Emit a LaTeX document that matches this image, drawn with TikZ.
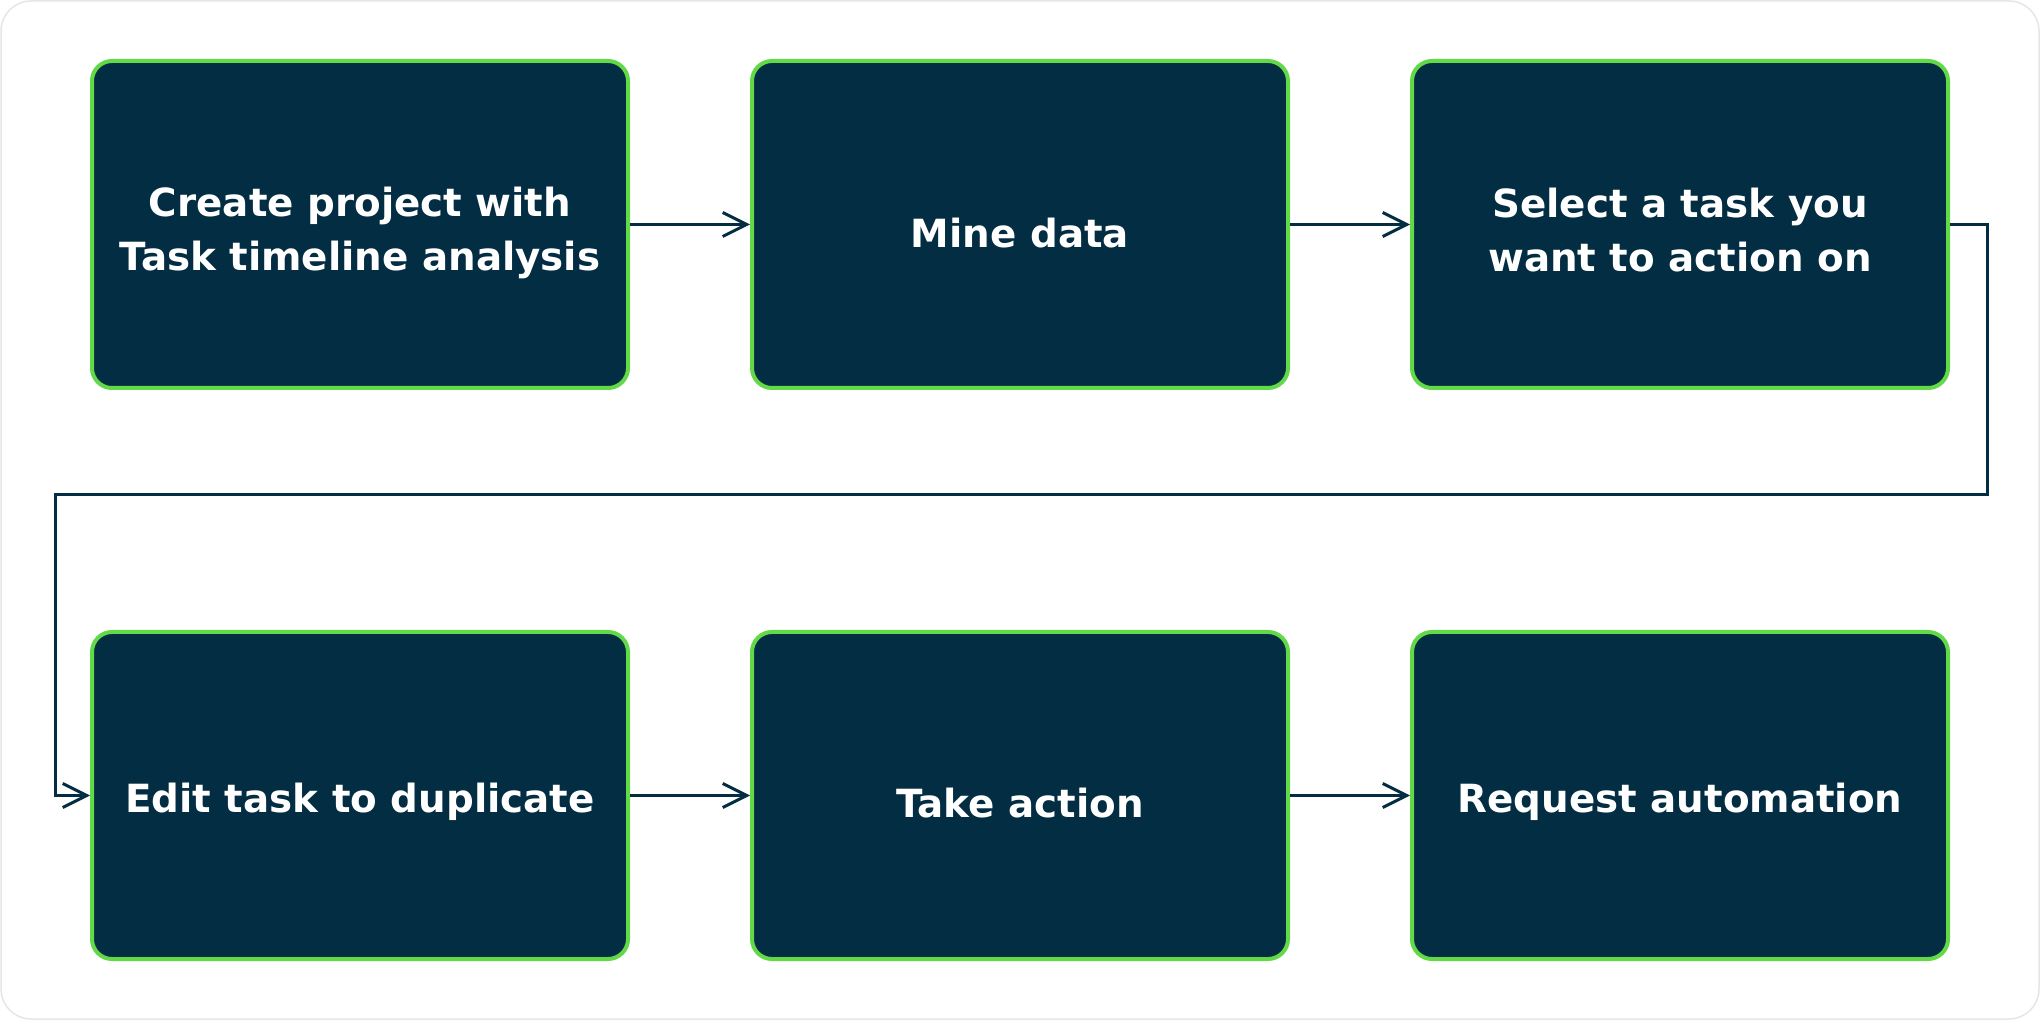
\documentclass[tikz,border=0pt]{standalone}
\usepackage{fontspec}
\setmainfont{DejaVu Sans}
\usetikzlibrary{arrows.meta}
\definecolor{boxfill}{HTML}{032D42}
\definecolor{boxline}{HTML}{62DA48}
\definecolor{frameline}{HTML}{E6E6E6}
\tikzset{
  stepbox/.style={draw=boxline, line width=2pt, fill=boxfill, rounded corners=10pt,
    minimum width=268pt, minimum height=163.5pt, inner sep=0pt},
  steptext/.style={text=white, font=\bfseries\fontsize{19.4}{27.3}\selectfont, align=center},
  flow/.style={draw=boxfill, line width=1.5pt, -{Straight Barb[length=12pt,width=12pt,line width=1.5pt]}},
}
\begin{document}
\begin{tikzpicture}[x=0.5pt,y=-0.5pt]
\useasboundingbox (0,0) rectangle (2040,1020);
\draw[frameline, line width=0.75pt, fill=white, rounded corners=15pt] (1,1) rectangle (2039,1019);
% boxes
\node[stepbox] (b1) at (360,224.5) {};
\node[stepbox] (b2) at (1020,224.5) {};
\node[stepbox] (b3) at (1680,224.5) {};
\node[stepbox] (b4) at (360,795.5) {};
\node[stepbox] (b5) at (1020,795.5) {};
\node[stepbox] (b6) at (1680,795.5) {};
% texts
\node[steptext] (t1) at (360,233) {Create project with\\Task timeline analysis};
\node[steptext, anchor=base] (t2) at (1020,248) {Mine data};
\node[steptext] (t3) at (1680,230) {\fontsize{19.4}{30}\selectfont Select a task you\\want to action on};
\node[steptext, anchor=base] (t4) at (360,812.5) {Edit task to duplicate};
\node[steptext, anchor=base] (t5) at (1020,817.5) {Take action};
\node[steptext, anchor=base] (t6) at (1680,812.5) {Request automation};
% connectors
\coordinate (c1) at (1987,224.5);
\coordinate (c2) at (1987,494.5);
\coordinate (c3) at (55,494.5);
\coordinate (c4) at (55,795.5);
\draw[flow] (b1.east) -- (b2.west);
\draw[flow] (b2.east) -- (b3.west);
\draw[flow] (b4.east) -- (b5.west);
\draw[flow] (b5.east) -- (b6.west);
\draw[flow] (b3.east) -- (c1) -- (c2) -- (c3) -- (c4) -- (b4.west);
\end{tikzpicture}
\end{document}
